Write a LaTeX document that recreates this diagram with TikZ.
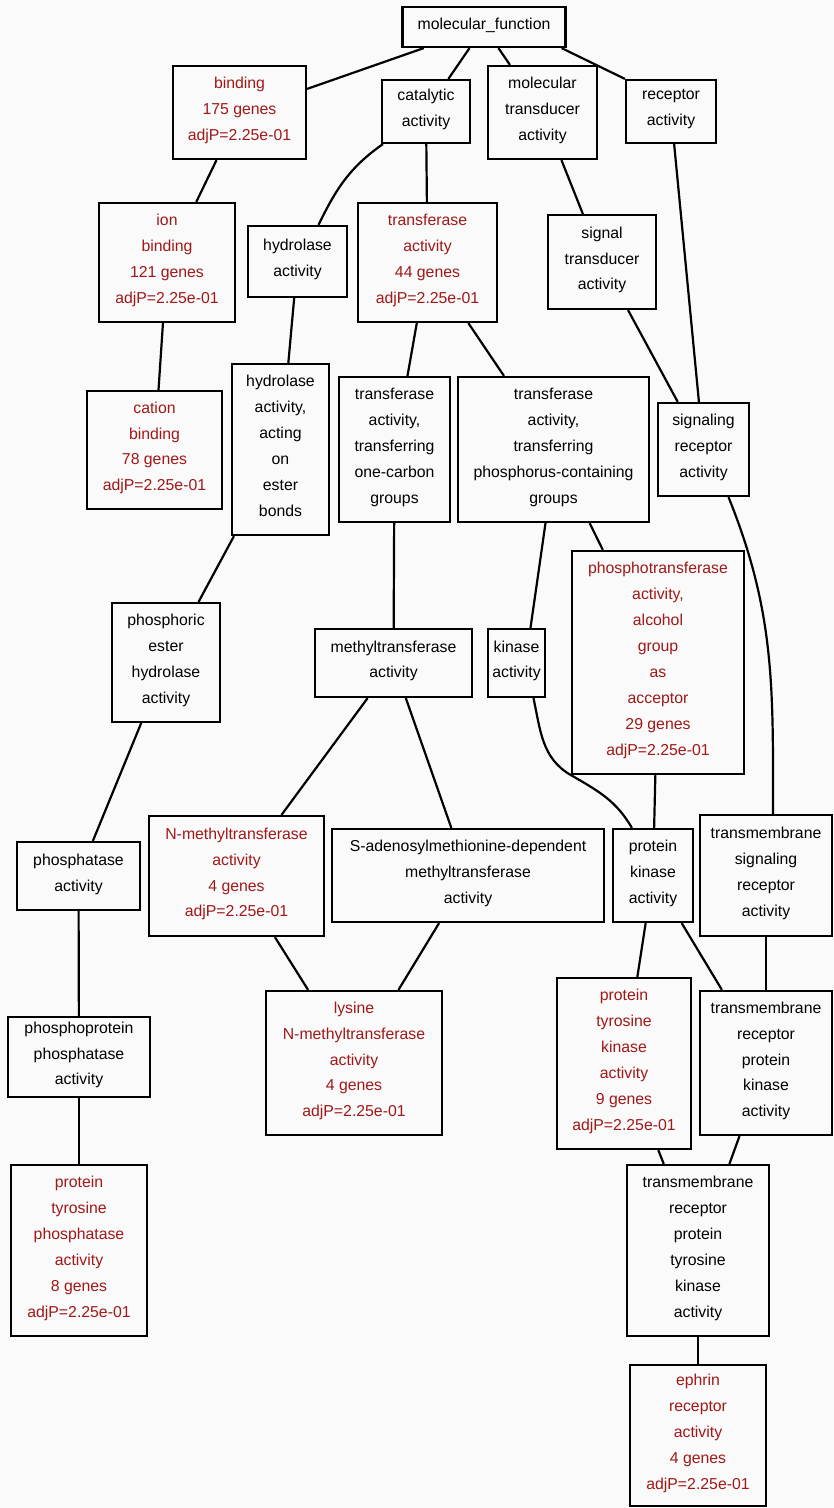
\documentclass[tikz,border=0pt]{standalone}
\usepackage{fontspec}
\setmainfont{Liberation Sans}
\usetikzlibrary{positioning, calc}
\definecolor{sigred}{RGB}{160,24,24}
\definecolor{bgpaper}{RGB}{250,250,250}

\begin{document}
\begin{tikzpicture}[x=0.02cm, y=-0.02cm,
        every node/.style={draw, rectangle, line width=1.25pt, align=center, inner sep=0pt, text depth=4.2pt, font=\fontsize{9}{14.74}\selectfont},
        sz/.style 2 args={minimum width=#1*0.02cm, minimum height=#2*0.02cm},
        enriched/.style={text=sigred},
        edge/.style={line width=1.25pt}]
        \path[use as bounding box, fill=bgpaper] (0,0) rectangle (834,1508);

        % Nodes
        \node (mf) [sz={163}{40}] at (484,27) {molecular\_function};
        \node (binding) [sz={133}{93}, enriched] at (239.5,112.5) {binding\\175 genes\\adjP=2.25e-01};
        \node (catalytic) [sz={88}{63}] at (426,111.5) {catalytic\\activity};
        \node (moltrans) [sz={109}{93}] at (542.5,112.5) {molecular\\transducer\\activity};
        \node (receptor) [sz={90}{63}] at (671,111.5) {receptor\\activity};
        \node (ionbind) [sz={136}{119}, enriched] at (167,262.5) {ion\\binding\\121 genes\\adjP=2.25e-01};
        \node (hydrolase) [sz={99}{71}] at (297.5,261.5) {hydrolase\\activity};
        \node (transferase) [sz={139}{119}, enriched] at (427.5,262.5) {transferase\\activity\\44 genes\\adjP=2.25e-01};
        \node (sigtrans) [sz={108}{94}] at (602,262) {signal\\transducer\\activity};
        \node (cation) [sz={135}{118}, enriched] at (154.5,450) {cation\\binding\\78 genes\\adjP=2.25e-01};
        \node (hydroester) [sz={97}{171}] at (280.5,449.5) {hydrolase\\activity,\\acting\\on\\ester\\bonds};
        \node (onecarbon) [sz={111}{145}] at (394.5,449.5) {transferase\\activity,\\transferring\\one-carbon\\groups};
        \node (phosphorus) [sz={191}{145}] at (553.5,449.5) {transferase\\activity,\\transferring\\phosphorus-containing\\groups};
        \node (sigrec) [sz={91}{93}] at (703.5,449.5) {signaling\\receptor\\activity};
        \node (phosester) [sz={108}{119}] at (166,662.5) {phosphoric\\ester\\hydrolase\\activity};
        \node (methyl) [sz={157}{68}] at (393.5,663) {methyltransferase\\activity};
        \node (kinase) [sz={57}{68}] at (516.5,663) {kinase\\activity};
        \node (phosphotrans) [sz={172}{223}, enriched] at (658,662.5) {phosphotransferase\\activity,\\alcohol\\group\\as\\acceptor\\29 genes\\adjP=2.25e-01};
        \node (phosphatase) [sz={123}{68}] at (78.5,876) {phosphatase\\activity};
        \node (nmethyl) [sz={175}{120}, enriched] at (236.5,876) {N-methyltransferase\\activity\\4 genes\\adjP=2.25e-01};
        \node (sadeno) [sz={272}{93}] at (468,875.5) {S-adenosylmethionine-dependent\\methyltransferase\\activity};
        \node (protkinase) [sz={80}{93}] at (653,875.5) {protein\\kinase\\activity};
        \node (tmsigrec) [sz={132}{121}] at (766,875.5) {transmembrane\\signaling\\receptor\\activity};
        \node (phosprotphos) [sz={142}{80}] at (79,1057) {phosphoprotein\\phosphatase\\activity};
        \node (lysine) [sz={176}{144}, enriched] at (354,1063) {lysine\\N-methyltransferase\\activity\\4 genes\\adjP=2.25e-01};
        \node (ptk) [sz={134}{171}, enriched] at (624,1063.5) {protein\\tyrosine\\kinase\\activity\\9 genes\\adjP=2.25e-01};
        \node (trpk) [sz={132}{144}] at (766,1063) {transmembrane\\receptor\\protein\\kinase\\activity};
        \node (ptp) [sz={136}{171}, enriched] at (79,1250.5) {protein\\tyrosine\\phosphatase\\activity\\8 genes\\adjP=2.25e-01};
        \node (trptk) [sz={142}{171}] at (698,1250.5) {transmembrane\\receptor\\protein\\tyrosine\\kinase\\activity};
        \node (ephrin) [sz={136}{141}, enriched] at (698,1435.5) {ephrin\\receptor\\activity\\4 genes\\adjP=2.25e-01};

        % Edges
        \foreach \i/\j in {mf/binding, mf/catalytic, mf/moltrans, binding/ionbind,
                catalytic/transferase, moltrans/sigtrans, receptor/sigrec, sigtrans/sigrec,
                ionbind/cation, hydrolase/hydroester, transferase/onecarbon, transferase/phosphorus,
                hydroester/phosester, onecarbon/methyl, phosphorus/phosphotrans,
                phosester/phosphatase, methyl/nmethyl, methyl/sadeno, phosphotrans/protkinase,
                phosphatase/phosprotphos, nmethyl/lysine, sadeno/lysine, protkinase/ptk,
                protkinase/trpk, tmsigrec/trpk, phosprotphos/ptp, ptk/trptk, trpk/trptk,
                trptk/ephrin} {
                \draw[edge] (\i) -- (\j);
        }

        % Edges that do not run centre to centre
        \draw[edge] ($(mf.south east)+(-5,0)$) -- (receptor.north west);
        \draw[edge] ($(catalytic.south west)+(2,0)$) to[out=-145, in=64] ($(hydrolase.north)+(21,0)$);
        \draw[edge] ($(phosphorus.south)+(-8,0)$) -- ($(kinase.north)+(14,0)$);
        \draw[edge] ($(sigrec.south)+(25,0)$) to[out=-68, in=90] ($(tmsigrec.north)+(7,0)$);
        \draw[edge] ($(kinase.south)+(17,0)$) to[out=-78, in=150] (phosphotrans.south west)
                to[out=-30, in=120] ($(protkinase.north west)+(20,0)$);
\end{tikzpicture}
\end{document}
